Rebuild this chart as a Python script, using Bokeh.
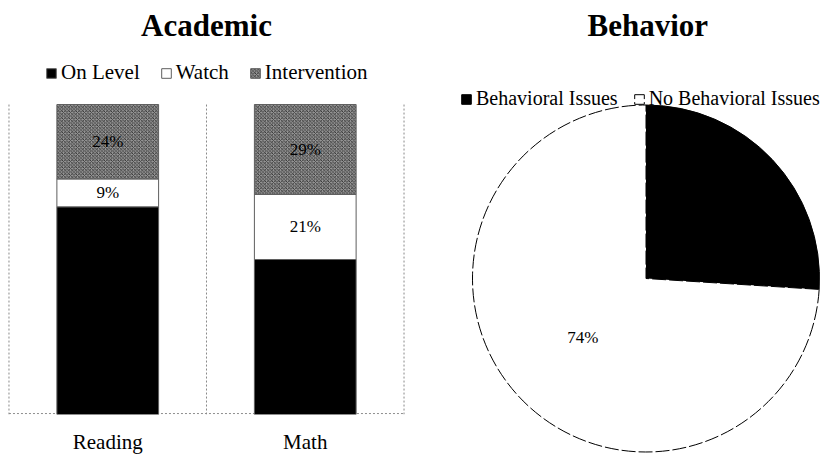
import math
from bokeh.plotting import figure
from bokeh.models import (ColumnDataSource, FactorRange, Range1d, Legend, LegendItem, Title)
from bokeh.layouts import row
from bokeh.embed import file_html
from bokeh.resources import INLINE

# ---------------- data ----------------
categories = ["Reading", "Math"]
academic_series = ["On Level", "Watch", "Intervention"]
on_level = [67, 50]
watch = [9, 21]
intervention = [24, 29]

behavior_labels = ["Behavioral Issues", "No Behavioral Issues"]
behavior_values = [26, 74]

FONT = "Liberation Serif"

# ---------------- Academic (stacked bars) ----------------
Y0, Y1 = 0, 118.4
p1 = figure(frame_width=398, frame_height=367,
            x_range=FactorRange(factors=categories, range_padding=0.0075,
                                range_padding_units="absolute"),
            y_range=Range1d(Y0, Y1), y_axis_location=None,
            output_backend="svg", toolbar_location=None,
            min_border_left=7, min_border_right=14, min_border_top=0, min_border_bottom=0)
p1.title = Title(text="Academic", align="center", text_font=FONT, text_font_size="31px",
                 text_font_style="bold", standoff=10, text_color="black")
p1.xgrid.visible = False
p1.ygrid.visible = False
p1.outline_line_color = None
p1.background_fill_color = "white"
p1.border_fill_color = "white"

xa = p1.xaxis[0]
xa.axis_line_color = None
xa.major_tick_line_color = None
xa.minor_tick_line_color = None
xa.major_tick_out = 0
xa.major_tick_in = 0
xa.major_label_standoff = 15
xa.major_label_text_font = FONT
xa.major_label_text_font_size = "21px"
xa.major_label_text_color = "black"

total = [a + b + c for a, b, c in zip(on_level, watch, intervention)]

# category separators and baseline (dotted)
n = len(categories)
p1.segment(x0=list(range(n + 1)), y0=[max(total)] * (n + 1),
           x1=list(range(n + 1)), y1=[Y0] * (n + 1),
           line_color="#8a8a8a", line_width=1, line_dash="2 2")
p1.segment(x0=[0], y0=[0.3], x1=[n], y1=[0.3], line_color="#8a8a8a", line_width=1, line_dash="2 2")

bottoms = [0] * n
renderers = []
styles = [
    dict(fill_color="black"),
    dict(fill_color="white"),
    dict(fill_color="#969696", hatch_pattern="diagonal_cross", hatch_color="#262626",
         hatch_scale=3.5, hatch_weight=0.8),
]
label_src = dict(x=[], y=[], text=[])
for series, vals, st in zip(academic_series, [on_level, watch, intervention], styles):
    tops = [b + v for b, v in zip(bottoms, vals)]
    src = ColumnDataSource(dict(x=categories, bottom=bottoms, top=tops))
    r = p1.vbar(x="x", bottom="bottom", top="top", width=0.515, source=src,
                line_color="#5e5e5e", line_width=1, **st)
    renderers.append(r)
    if series != "On Level":
        for c, b, v in zip(categories, bottoms, vals):
            label_src["x"].append(c)
            label_src["y"].append(b + v / 2)
            label_src["text"].append(f"{v}%")
    bottoms = tops

p1.text(x="x", y="y", text="text", source=ColumnDataSource(label_src),
        text_align="center", text_baseline="middle", text_font=FONT,
        text_font_size="17px", text_color="black")

leg1 = Legend(items=[LegendItem(label=s, renderers=[r]) for s, r in zip(academic_series, renderers)],
              orientation="horizontal", location=(38, 329), glyph_width=12, glyph_height=12,
              label_standoff=4, spacing=20, padding=0, margin=0, border_line_color=None,
              background_fill_alpha=0, label_text_font=FONT, label_text_font_size="21px",
              label_text_color="black")
p1.add_layout(leg1)

# ---------------- Behavior (pie) ----------------
p2 = figure(frame_width=410, frame_height=406,
            x_range=Range1d(-226.5, 183.5), y_range=Range1d(-175, 231),
            x_axis_location=None, y_axis_location=None,
            output_backend="svg", toolbar_location=None,
            min_border_left=0, min_border_right=0, min_border_top=0, min_border_bottom=0)
p2.title = Title(text="Behavior", align="left", offset=168, text_font=FONT, text_font_size="31px",
                 text_font_style="bold", standoff=10, text_color="black")
p2.xgrid.visible = False
p2.ygrid.visible = False
p2.outline_line_color = None

btotal = sum(behavior_values)
starts, ends = [], []
cum = 0
for v in behavior_values:
    starts.append(math.pi / 2 - 2 * math.pi * cum / btotal)
    cum += v
    ends.append(math.pi / 2 - 2 * math.pi * cum / btotal)

R = 173.5
pie_colors = ["black", "white"]
pie_dashes = ["solid", "14 3"]
wedges = []
for lab, s, e, col, dash in zip(behavior_labels, starts, ends, pie_colors, pie_dashes):
    w = p2.wedge(x=0, y=0, radius=R, start_angle=s, end_angle=e, direction="clock",
                 fill_color=col, line_color="black", line_width=1, line_dash=dash)
    wedges.append(w)

pl = dict(x=[], y=[], text=[])
for v, s, e, col in zip(behavior_values, starts, ends, pie_colors):
    if col == "black":
        continue
    m = (s + e) / 2
    pl["x"].append(0.5 * R * math.cos(m))
    pl["y"].append(0.5 * R * math.sin(m))
    pl["text"].append(f"{v}%")
p2.text(x="x", y="y", text="text", source=ColumnDataSource(pl), text_align="center",
        text_baseline="middle", text_font=FONT, text_font_size="17px", text_color="black")

leg2 = Legend(items=[LegendItem(label=l, renderers=[w]) for l, w in zip(behavior_labels, wedges)],
              orientation="horizontal", location=(41, 343), glyph_width=12, glyph_height=12,
              label_standoff=4, spacing=15, padding=0, margin=0, border_line_color=None,
              background_fill_alpha=0, label_text_font=FONT, label_text_font_size="20px",
              label_text_color="black")
p2.add_layout(leg2)

layout = row(p1, p2)
open("out.html", "w").write(file_html(layout, INLINE))
